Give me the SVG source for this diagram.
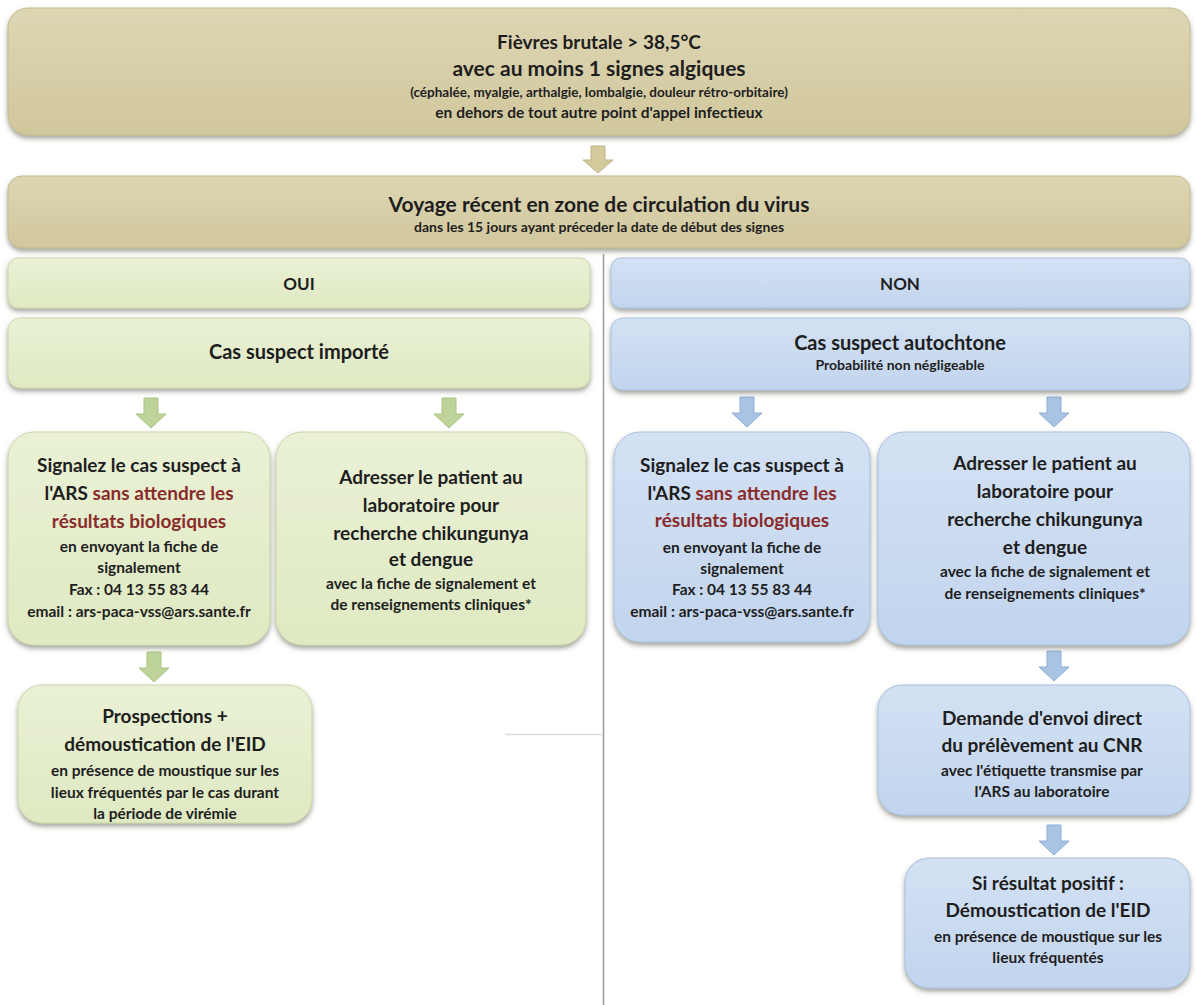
<svg xmlns="http://www.w3.org/2000/svg" width="1197" height="1005" viewBox="0 0 1197 1005">
<defs>
<linearGradient id="gTan" x1="0" y1="0" x2="0" y2="1"><stop offset="0" stop-color="#ddd6b3"/><stop offset="1" stop-color="#d1c79d"/></linearGradient>
<linearGradient id="gGreen" x1="0" y1="0" x2="0" y2="1"><stop offset="0" stop-color="#eaf1d6"/><stop offset="1" stop-color="#dfe9c2"/></linearGradient>
<linearGradient id="gBlue" x1="0" y1="0" x2="0" y2="1"><stop offset="0" stop-color="#d3e1f3"/><stop offset="1" stop-color="#c2d5ee"/></linearGradient>
<filter id="sh" x="-5%" y="-10%" width="110%" height="125%"><feDropShadow dx="0" dy="3" stdDeviation="2.5" flood-color="#5a5a4a" flood-opacity="0.55"/></filter>
</defs>
<style>
text{font-family:Lato,"Liberation Sans",sans-serif;font-weight:bold;fill:#1e1e1e;text-anchor:middle}
.tan{fill:url(#gTan);stroke:#c4ba8c;stroke-width:1;filter:url(#sh)}
.grn{fill:url(#gGreen);stroke:#cbd8a8;stroke-width:1;filter:url(#sh)}
.blu{fill:url(#gBlue);stroke:#a9c1e0;stroke-width:1;filter:url(#sh)}
.big{font-size:19px}
.mid{font-size:15.5px}
.red{fill:#8a2b2b}
.aT{fill:#d3ca9e;stroke:#bfb486}
.aG{fill:#bed39a;stroke:#a9c283}
.aB{fill:#a9c3e4;stroke:#8fadd6}
</style>
<rect x="0" y="0" width="1197" height="1005" fill="#ffffff"/>
<g id="dividers">
<line x1="603.5" y1="254" x2="603.5" y2="1005" stroke="#9a9a9a" stroke-width="1.5"/>
<line x1="505" y1="734.5" x2="602" y2="734.5" stroke="#dcdcdc" stroke-width="1.5"/>
</g>
<g id="connectors">
<path class="aT" d="M591,146 h14 v14 h8 l-15,13 l-15,-13 h8 z"/>
<path class="aG" d="M144,398 h14 v16 h8 l-15,14 l-15,-14 h8 z"/>
<path class="aG" d="M442,398 h14 v16 h8 l-15,14 l-15,-14 h8 z"/>
<path class="aB" d="M740,397 h14 v16 h8 l-15,14 l-15,-14 h8 z"/>
<path class="aB" d="M1047,397 h14 v16 h8 l-15,14 l-15,-14 h8 z"/>
<path class="aG" d="M147,652 h14 v16 h8 l-15,14 l-15,-14 h8 z"/>
<path class="aB" d="M1047,651 h14 v16 h8 l-15,14 l-15,-14 h8 z"/>
<path class="aB" d="M1047,825 h14 v16 h8 l-15,14 l-15,-14 h8 z"/>
</g>
<g id="n-fievre">
<rect class="tan" x="8" y="8" width="1182" height="127" rx="20"/>
<text x="599" y="49" style="font-size:19px">Fièvres brutale &gt; 38,5°C</text>
<text x="599" y="76" style="font-size:21px">avec au moins 1 signes algiques</text>
<text x="599" y="97" style="font-size:13.5px">(céphalée, myalgie, arthalgie, lombalgie, douleur rétro-orbitaire)</text>
<text x="599" y="118" style="font-size:15.5px">en dehors de tout autre point d'appel infectieux</text>
</g>
<g id="n-voyage">
<rect class="tan" x="8" y="176" width="1182" height="72" rx="14"/>
<text x="599" y="212" style="font-size:21px">Voyage récent en zone de circulation du virus</text>
<text x="599" y="232" style="font-size:14px">dans les 15 jours ayant préceder la date de début des signes</text>
</g>
<g id="n-oui">
<rect class="grn" x="8" y="258" width="582" height="50" rx="10"/>
<text x="299" y="290" style="font-size:17px">OUI</text>
</g>
<g id="n-non">
<rect class="blu" x="611" y="258" width="579" height="50" rx="10"/>
<text x="900" y="290" style="font-size:17px">NON</text>
</g>
<g id="n-importe">
<rect class="grn" x="8" y="318" width="582" height="70" rx="12"/>
<text x="299" y="359" style="font-size:20px">Cas suspect importé</text>
</g>
<g id="n-autochtone">
<rect class="blu" x="611" y="318" width="579" height="72" rx="12"/>
<text x="900" y="350" style="font-size:20px">Cas suspect autochtone</text>
<text x="900" y="370" style="font-size:14px">Probabilité  non négligeable</text>
</g>
<g id="n-signal-g">
<rect class="grn" x="8" y="432" width="262" height="213" rx="26"/>
<text class="big" x="139" y="472">Signalez le cas suspect à</text>
<text class="big" x="139" y="500">l'ARS <tspan class="red">sans attendre les</tspan></text>
<text class="big red" x="139" y="528">résultats biologiques</text>
<text class="mid" x="139" y="552">en envoyant la fiche de</text>
<text class="mid" x="139" y="573">signalement</text>
<text class="mid" x="139" y="595">Fax : 04 13 55 83 44</text>
<text class="mid" x="139" y="617">email : ars-paca-vss@ars.sante.fr</text>
</g>
<g id="n-labo-g">
<rect class="grn" x="276" y="432" width="310" height="213" rx="26"/>
<text class="big" x="431" y="484">Adresser le patient au</text>
<text class="big" x="431" y="512">laboratoire pour</text>
<text class="big" x="431" y="540">recherche chikungunya</text>
<text class="big" x="431" y="566">et dengue</text>
<text class="mid" x="431" y="589">avec la fiche de signalement et</text>
<text class="mid" x="431" y="610">de renseignements cliniques*</text>
</g>
<g id="n-prosp">
<rect class="grn" x="18" y="685" width="294" height="138" rx="24"/>
<text class="big" x="165" y="723">Prospections +</text>
<text class="big" x="165" y="751">démoustication de l'EID</text>
<text class="mid" x="165" y="776">en présence de moustique sur les</text>
<text class="mid" x="165" y="798">lieux fréquentés par le cas durant</text>
<text class="mid" x="165" y="819">la période de virémie</text>
</g>
<g id="n-signal-b">
<rect class="blu" x="614" y="432" width="256" height="210" rx="26"/>
<text class="big" x="742" y="472">Signalez le cas suspect à</text>
<text class="big" x="742" y="500">l'ARS <tspan class="red">sans attendre les</tspan></text>
<text class="big red" x="742" y="527">résultats biologiques</text>
<text class="mid" x="742" y="553">en envoyant la fiche de</text>
<text class="mid" x="742" y="574">signalement</text>
<text class="mid" x="742" y="595">Fax : 04 13 55 83 44</text>
<text class="mid" x="742" y="617">email : ars-paca-vss@ars.sante.fr</text>
</g>
<g id="n-labo-b">
<rect class="blu" x="878" y="432" width="312" height="213" rx="26"/>
<text class="big" x="1045" y="470">Adresser le patient au</text>
<text class="big" x="1045" y="498">laboratoire pour</text>
<text class="big" x="1045" y="526">recherche chikungunya</text>
<text class="big" x="1045" y="554">et dengue</text>
<text class="mid" x="1045" y="577">avec la fiche de signalement et</text>
<text class="mid" x="1045" y="599">de renseignements cliniques*</text>
</g>
<g id="n-cnr">
<rect class="blu" x="878" y="685" width="312" height="130" rx="24"/>
<text class="big" x="1042" y="725">Demande d'envoi direct</text>
<text class="big" x="1042" y="752">du prélèvement au CNR</text>
<text class="mid" x="1042" y="776">avec l'étiquette transmise par</text>
<text class="mid" x="1042" y="797">l'ARS au laboratoire</text>
</g>
<g id="n-positif">
<rect class="blu" x="905" y="858" width="285" height="130" rx="24"/>
<text class="big" x="1048" y="890">Si résultat positif :</text>
<text class="big" x="1048" y="917">Démoustication de l'EID</text>
<text class="mid" x="1048" y="942">en présence de moustique sur les</text>
<text class="mid" x="1048" y="963">lieux fréquentés</text>
</g>
</svg>
